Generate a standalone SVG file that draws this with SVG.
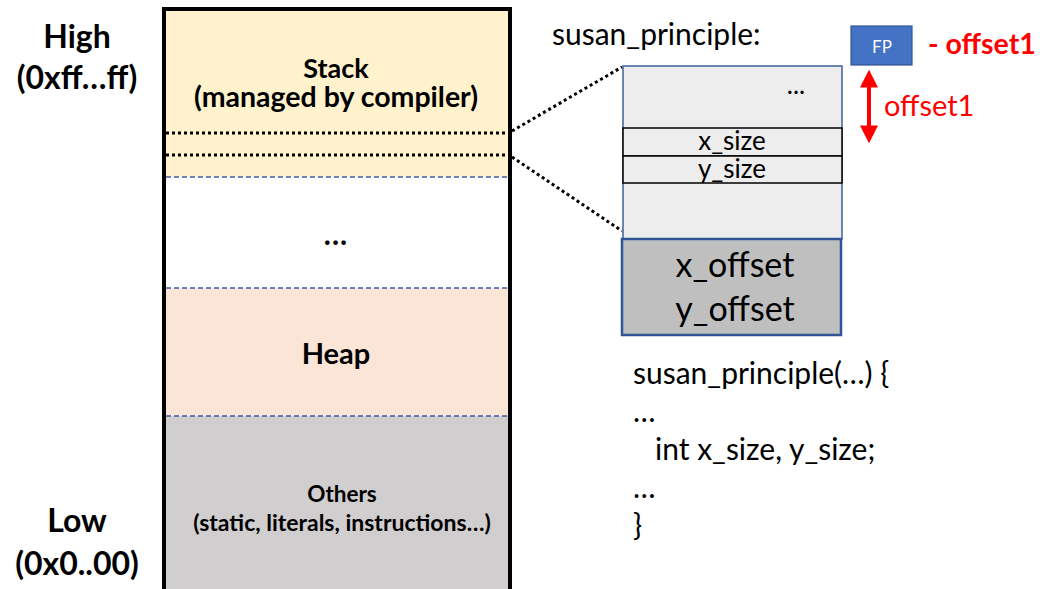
<svg xmlns="http://www.w3.org/2000/svg" width="1040" height="589" viewBox="0 0 1040 589">
  <defs>
    <style>
      .t { font-family: Lato, "Liberation Sans", sans-serif; fill: #000; }
      .b { font-weight: bold; }
      .red { fill: #FF0000; }
      .dash { stroke: #3A5FA5; stroke-width: 1.3; stroke-dasharray: 5 3; fill: none; }
      .dot { stroke: #000; stroke-width: 3; stroke-dasharray: 3 3; fill: none; }
      .row { fill: #EDEDED; stroke: #000; stroke-width: 1.5; }
    </style>
    <marker id="redHead" viewBox="0 0 10 10" refX="7" refY="5" markerWidth="4.5" markerHeight="4.5" orient="auto-start-reverse">
      <path d="M0,0 L10,5 L0,10 Z" fill="#FF0000"/>
    </marker>
  </defs>

  <rect width="1040" height="589" fill="#FFFFFF"/>

  <!-- address labels -->
  <g id="high-label">
    <text class="t b" x="77" y="48" font-size="32" text-anchor="middle">High</text>
    <text class="t b" x="77" y="89" font-size="32" text-anchor="middle">(0xff…ff)</text>
  </g>
  <g id="low-label">
    <text class="t b" x="77" y="532" font-size="32" text-anchor="middle">Low</text>
    <text class="t b" x="77" y="575" font-size="32" text-anchor="middle">(0x0..00)</text>
  </g>

  <!-- memory layout column -->
  <g id="memory">
    <rect id="stack" x="164" y="9" width="346" height="168" fill="#FFF2CC"/>
    <rect id="gap" x="164" y="177" width="346" height="111" fill="#FFFFFF"/>
    <rect id="heap" x="164" y="288" width="346" height="128" fill="#FBE5D6"/>
    <rect id="others" x="164" y="416" width="346" height="180" fill="#D0CECE"/>
    <line class="dash" x1="166" y1="177" x2="508" y2="177"/>
    <line class="dash" x1="166" y1="288" x2="508" y2="288"/>
    <line class="dash" x1="166" y1="416" x2="508" y2="416"/>
    <line class="dot" x1="166" y1="133" x2="508" y2="133"/>
    <line class="dot" x1="166" y1="155" x2="508" y2="155"/>
    <path d="M164,600 V9 H510 V600" fill="none" stroke="#000" stroke-width="4"/>
    <text class="t b" text-anchor="middle"><tspan x="336" y="78" font-size="27">Stack</tspan><tspan x="336" y="107" font-size="28.5">(managed by compiler)</tspan></text>
    <text class="t b" x="336" y="245" font-size="30" text-anchor="middle" letter-spacing="1">...</text>
    <text class="t b" x="336" y="364" font-size="29" text-anchor="middle">Heap</text>
    <text class="t b" x="342" y="502" font-size="22.5" text-anchor="middle">Others</text>
    <text class="t b" x="342" y="531" font-size="23" text-anchor="middle">(static, literals, instructions…)</text>
  </g>

  <!-- zoom connectors -->
  <g id="connectors">
    <line class="dot" x1="512" y1="131" x2="622" y2="67"/>
    <line class="dot" x1="512" y1="157" x2="622" y2="231"/>
  </g>

  <!-- stack frame of susan_principle -->
  <g id="frame">
    <text class="t" x="552" y="45" font-size="30">susan_principle:</text>
    <rect x="623" y="66" width="219" height="173" fill="#EDEDED" stroke="#2F5597" stroke-width="1.4"/>
    <text class="t" x="796" y="94" font-size="26" text-anchor="middle">...</text>
    <rect class="row" x="623" y="128" width="219" height="28"/>
    <rect class="row" x="623" y="156" width="219" height="27"/>
    <text class="t" x="732" y="150" font-size="26" text-anchor="middle">x_size</text>
    <text class="t" x="732" y="178" font-size="26" text-anchor="middle">y_size</text>
  </g>
  <g id="params">
    <rect x="622" y="239" width="219" height="96" fill="#BFBFBF" stroke="#2F5597" stroke-width="2.5"/>
    <text class="t" x="735" y="277" font-size="34" text-anchor="middle">x_offset</text>
    <text class="t" x="735" y="321" font-size="34" text-anchor="middle">y_offset</text>
  </g>

  <!-- frame pointer -->
  <g id="fp">
    <rect x="851" y="26" width="61" height="39" fill="#4472C4" stroke="#2F5597" stroke-width="1.2"/>
    <text x="882" y="53" font-family="Lato, 'Liberation Sans', sans-serif" font-size="17" fill="#FFFFFF" text-anchor="middle">FP</text>
    <text class="t b red" x="928" y="54" font-size="28.5">- offset1</text>
  </g>
  <g id="offset">
    <line x1="869" y1="75" x2="869" y2="138" stroke="#FF0000" stroke-width="4" marker-start="url(#redHead)" marker-end="url(#redHead)"/>
    <text class="t red" x="884" y="116" font-size="29">offset1</text>
  </g>

  <!-- source code -->
  <g id="code">
    <text class="t" x="633" y="384" font-size="30">susan_principle(…) {</text>
    <text class="t" x="633" y="422" font-size="30">…</text>
    <text class="t" x="655" y="460" font-size="30">int x_size, y_size;</text>
    <text class="t" x="633" y="498" font-size="30">…</text>
    <text class="t" x="633" y="536" font-size="30">}</text>
  </g>
</svg>
